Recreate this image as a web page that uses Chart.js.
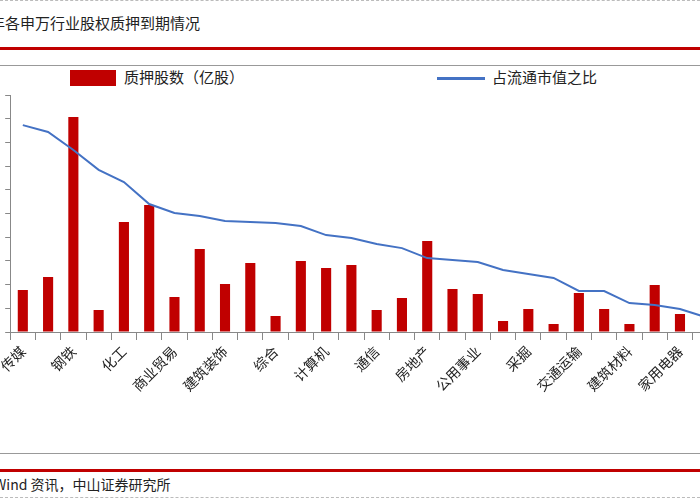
<!DOCTYPE html>
<html><head><meta charset="utf-8">
<script src="https://cdn.jsdelivr.net/npm/chart.js@4"></script>
<style>
body{margin:0;width:700px;height:500px;overflow:hidden;background:#fff;position:relative;font-family:"Noto Sans CJK SC",sans-serif;}
.ab{position:absolute;}
</style></head><body>
<div class="ab" style="top:0;left:0;width:700px;border-top:1px dashed #bbb"></div>
<div class="ab" style="top:12px;left:-10px;font-size:15px;color:#222">年各申万行业股权质押到期情况</div>
<div class="ab" style="top:47px;left:0;width:700px;height:3px;background:#c00000"></div>
<div class="ab" style="top:65px;left:0;width:700px;height:1px;background:#999"></div>
<div class="ab" style="top:70px;left:70px;width:46px;height:16px;background:#c00000"></div>
<div class="ab" style="top:66px;left:124px;font-size:15px;color:#222">质押股数（亿股）</div>
<div class="ab" style="top:77px;left:437px;width:48px;height:3px;background:#4472c4"></div>
<div class="ab" style="top:66px;left:492px;font-size:15px;color:#222">占流通市值之比</div>
<div class="ab" style="top:90px;left:0;width:720px;height:364px;"><canvas id="c"></canvas></div>
<div class="ab" style="top:453px;left:0;width:700px;height:1px;background:#999"></div>
<div class="ab" style="top:469px;left:0;width:700px;height:3px;background:#c00000"></div>
<div class="ab" style="top:474px;left:-6px;font-size:14px;color:#222">Wind 资讯，中山证券研究所</div>
<div class="ab" style="top:497px;left:0;width:700px;border-top:1px dashed #bbb"></div>
<script>
const categories=["传媒","","钢铁","","化工","","商业贸易","","建筑装饰","","综合","","计算机","","通信","","房地产","","公用事业","","采掘","","交通运输","","建筑材料","","家用电器",""];
const pledgedShares=[1.77,2.32,9.07,0.93,4.64,5.36,1.48,3.50,2.03,2.91,0.68,3.00,2.70,2.83,0.93,1.43,3.84,1.81,1.60,0.46,0.97,0.34,1.65,0.97,0.34,1.98,0.76,0.3];
const floatRatio=[8.73,8.44,7.68,6.84,6.33,5.40,5.02,4.89,4.68,4.64,4.60,4.47,4.09,3.97,3.71,3.54,3.12,3.04,2.95,2.62,2.45,2.28,1.73,1.73,1.22,1.14,0.97,0.63];
new Chart(document.getElementById('c'),{
 data:{labels:categories,datasets:[
  {type:'line',data:floatRatio,borderColor:'#4472c4',borderWidth:2,pointRadius:0,tension:0,order:0},
  {type:'bar',data:pledgedShares,backgroundColor:'#c00000',barPercentage:0.4,categoryPercentage:1,order:1}
 ]},
 options:{responsive:true,maintainAspectRatio:false,animation:false,
  layout:{padding:{left:3,top:5,right:0,bottom:0}},
  plugins:{legend:{display:false},tooltip:{enabled:false}},
  scales:{
   x:{offset:true,grid:{offset:true,drawOnChartArea:false,tickLength:8,color:'#888'},border:{color:'#888'},
      ticks:{autoSkip:false,maxRotation:45,minRotation:45,font:{family:'"Noto Sans CJK SC"',size:14},color:'#222'},
      afterFit:s=>{s.height=122;}},
   y:{min:0,max:10,ticks:{display:false,stepSize:1},grid:{drawOnChartArea:false,tickLength:5,color:'#888'},border:{color:'#888'},afterFit:s=>{s.width=0;}}
  }}
});
</script></body></html>
